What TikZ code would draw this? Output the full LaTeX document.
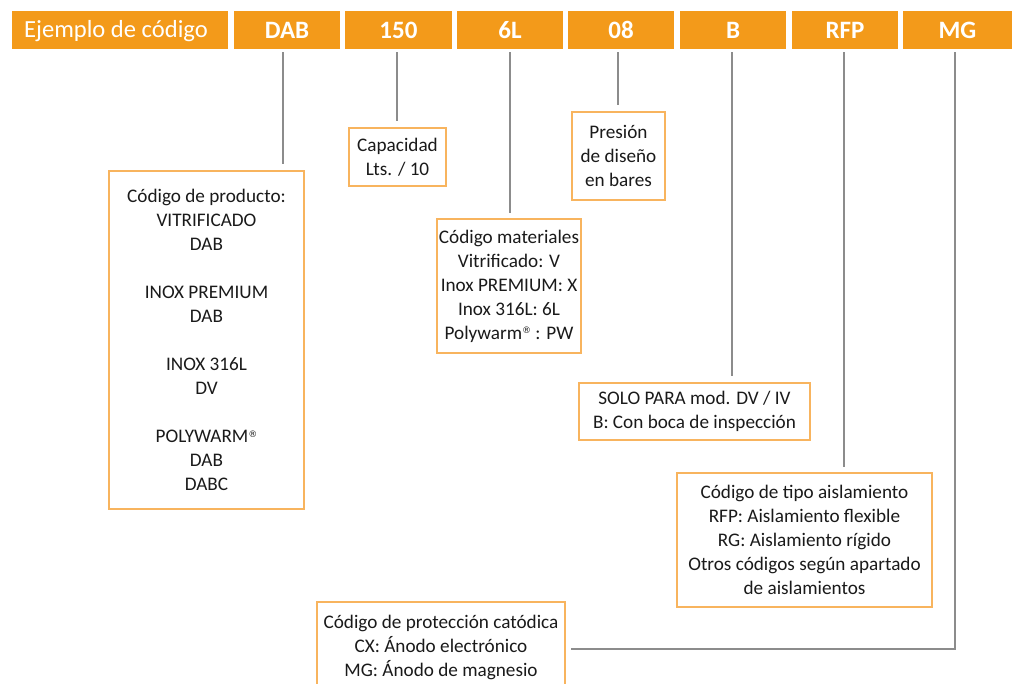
\documentclass[tikz,border=0pt]{standalone}
\usepackage{fontspec}
\setmainfont{Carlito}
\newfontfamily\symfont{DejaVu Sans}
\definecolor{barorange}{HTML}{F39A1A}
\definecolor{boxorange}{HTML}{F8B45E}
\definecolor{linegray}{HTML}{8C8C8C}
\definecolor{txt}{HTML}{1A1A1A}
\newcommand{\regmark}{\raisebox{0.6ex}{\symfont\fontsize{9}{9}\selectfont ®}}
\tikzset{
  seg/.style={fill=barorange, draw=none, inner sep=0pt, minimum height=38pt, text=white, font=\fontsize{24.6}{28}\selectfont},
  codeseg/.style={seg, font=\fontsize{25}{28}\selectfont\bfseries},
  infobox/.style={draw=boxorange, line width=2.4pt, fill=white, inner sep=0pt, align=center, text=txt, font=\fontsize{19.2}{24}\selectfont},
  conn/.style={draw=linegray, line width=2.4pt}
}
\begin{document}
\begin{tikzpicture}[x=1pt,y=-1pt]
\clip (0,0) rectangle (1019,684);
\useasboundingbox (0,0) rectangle (1019,684);
\fill[white] (0,0) rectangle (1019,684);
% top bar
\node[seg, minimum width=216pt] (ej) at (120,30) {};
\node[text=white, font=\fontsize{24.6}{28}\selectfont, inner sep=0pt] (ejt) at (116,31.5) {Ejemplo de código};
\node[codeseg, minimum width=106pt] (dab) at (287,30) {DAB};
\node[codeseg, minimum width=107pt] (cap) at (398.5,30) {150};
\node[codeseg, minimum width=106pt] (mat) at (510,30) {6L};
\node[codeseg, minimum width=106pt] (pre) at (621,30) {08};
\node[codeseg, minimum width=106pt] (boc) at (733,30) {B};
\node[codeseg, minimum width=106pt] (ais) at (845,30) {RFP};
\node[codeseg, minimum width=109pt] (mg) at (957.5,30) {MG};
% boxes
\node[infobox, minimum width=195pt, minimum height=338pt] (bprod) at (206.5,340)
  {Código de producto:\\VITRIFICADO\\DAB\\[24pt]INOX PREMIUM\\DAB\\[24pt]INOX 316L\\DV\\[24pt]POLYWARM\regmark\\DAB\\DABC};
\node[infobox, minimum width=97pt, minimum height=58pt] (bcap) at (397.5,157) {Capacidad\\Lts. / 10};
\node[infobox, minimum width=93pt, minimum height=88pt] (bpre) at (618.5,156) {Presión\\de diseño\\en bares};
\node[infobox, minimum width=144pt, minimum height=134pt] (bmat) at (509,286)
  {Código materiales\\Vitrificado: V\\Inox PREMIUM: X\\Inox 316L: 6L\\Polywarm\regmark\ : PW};
\node[infobox, minimum width=231pt, minimum height=57pt] (bboc) at (694.5,411.5)
  {SOLO PARA mod. DV / IV\\B: Con boca de inspección};
\node[infobox, minimum width=255pt, minimum height=134pt] (bais) at (804.5,540)
  {Código de tipo aislamiento\\RFP: Aislamiento flexible\\RG: Aislamiento rígido\\Otros códigos según apartado\\de aislamientos};
\node[infobox, minimum width=248pt, minimum height=91pt] (bmg) at (441,647.5)
  {Código de protección catódica\\CX: Ánodo electrónico\\MG: Ánodo de magnesio};
% connectors
\coordinate (xdab) at (283,0);
\coordinate (xcap) at (397,0);
\coordinate (xmat) at (510,0);
\coordinate (xpre) at (618,0);
\coordinate (xboc) at (732,0);
\coordinate (xais) at (844,0);
\coordinate (xmg) at (955,0);
\draw[conn] ([yshift=-3pt]dab.south -| xdab) -- ([yshift=6pt]bprod.north -| xdab);
\draw[conn] ([yshift=-3pt]cap.south -| xcap) -- ([yshift=6pt]bcap.north -| xcap);
\draw[conn] ([yshift=-3pt]mat.south -| xmat) -- ([yshift=5pt]bmat.north -| xmat);
\draw[conn] ([yshift=-3pt]pre.south -| xpre) -- ([yshift=6pt]bpre.north -| xpre);
\draw[conn] ([yshift=-3pt]boc.south -| xboc) -- ([yshift=6pt]bboc.north -| xboc);
\draw[conn] ([yshift=-3pt]ais.south -| xais) -- ([yshift=5pt]bais.north -| xais);
\draw[conn] ([yshift=-3pt]mg.south -| xmg) |- ([xshift=5pt,yshift=-1.5pt]bmg.east);
\end{tikzpicture}
\end{document}
